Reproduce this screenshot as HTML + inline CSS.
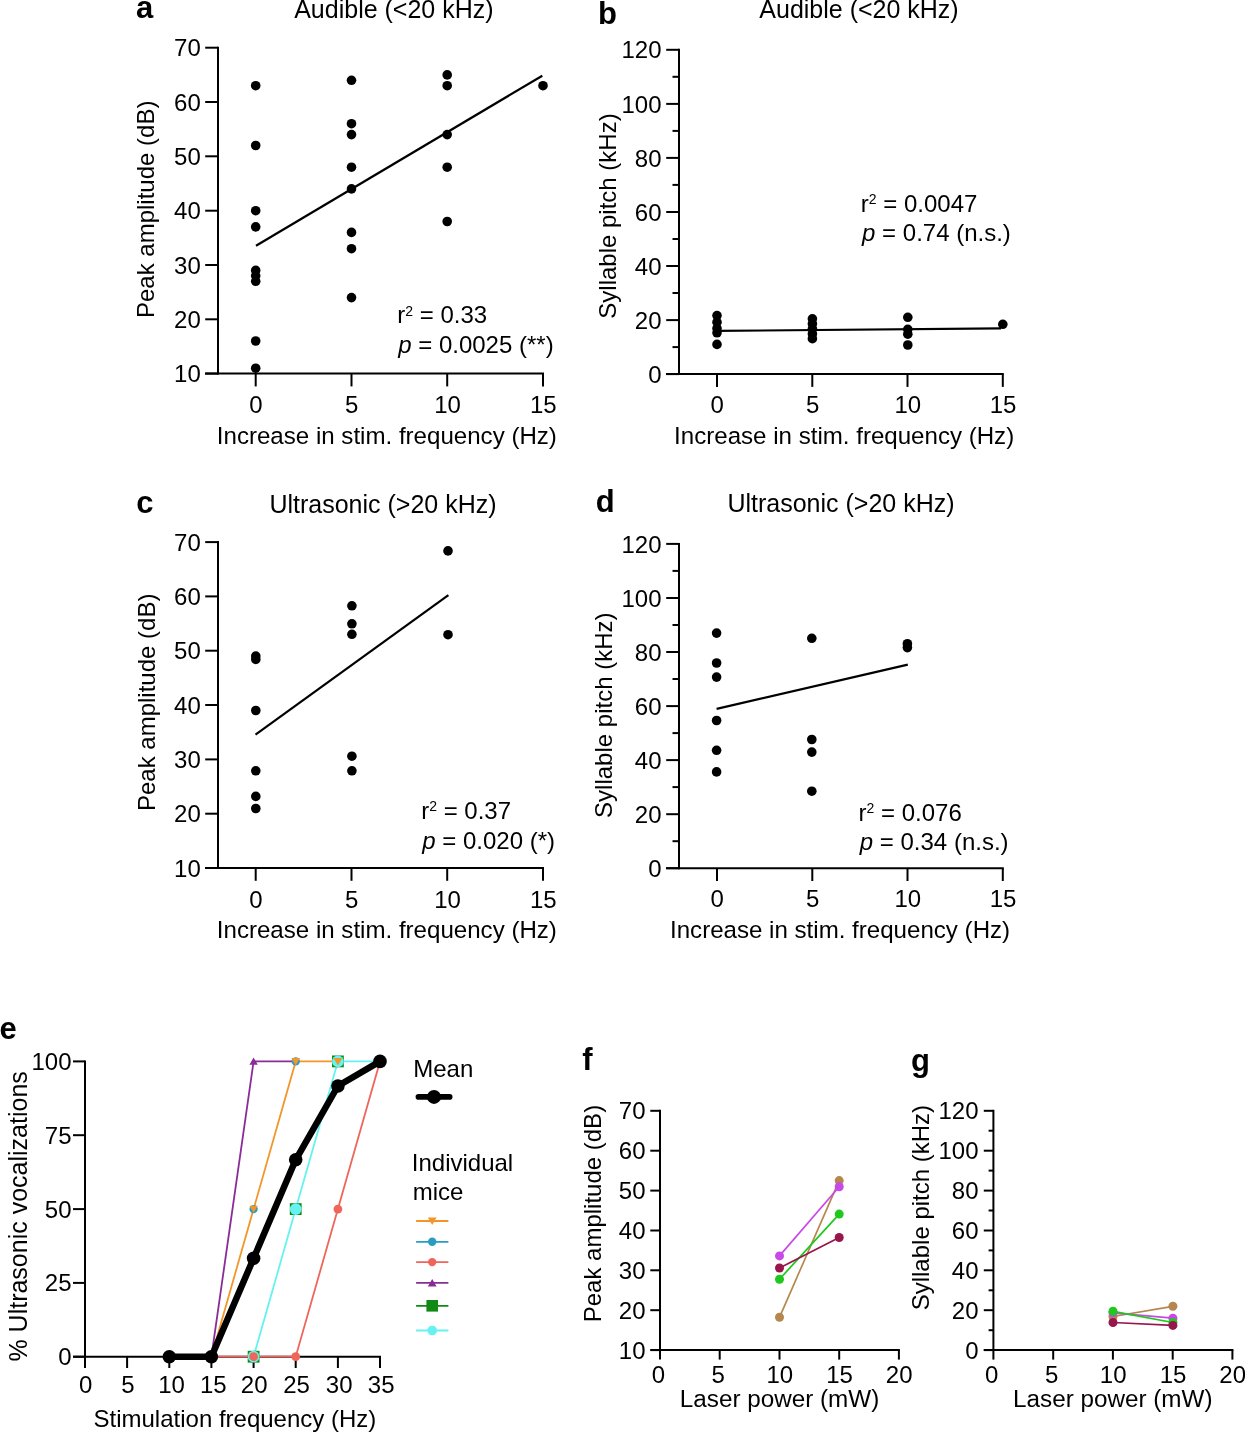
<!DOCTYPE html>
<html><head><meta charset="utf-8"><style>
html,body{margin:0;padding:0;background:#fff;}
svg{display:block;will-change:transform;}
text{font-family:"Liberation Sans",sans-serif;fill:#000;}
</style></head><body>
<svg width="1245" height="1433" viewBox="0 0 1245 1433">
<rect width="1245" height="1433" fill="#fff"/>
<line x1="218.0" y1="46.7" x2="218.0" y2="374.6" stroke="#000" stroke-width="2"/>
<line x1="205.2" y1="373.6" x2="218.0" y2="373.6" stroke="#000" stroke-width="2"/>
<text x="200.8" y="382.2" font-size="24" text-anchor="end">10</text>
<line x1="205.2" y1="319.3" x2="218.0" y2="319.3" stroke="#000" stroke-width="2"/>
<text x="200.8" y="327.9" font-size="24" text-anchor="end">20</text>
<line x1="205.2" y1="265.0" x2="218.0" y2="265.0" stroke="#000" stroke-width="2"/>
<text x="200.8" y="273.6" font-size="24" text-anchor="end">30</text>
<line x1="205.2" y1="210.7" x2="218.0" y2="210.7" stroke="#000" stroke-width="2"/>
<text x="200.8" y="219.2" font-size="24" text-anchor="end">40</text>
<line x1="205.2" y1="156.3" x2="218.0" y2="156.3" stroke="#000" stroke-width="2"/>
<text x="200.8" y="164.9" font-size="24" text-anchor="end">50</text>
<line x1="205.2" y1="102.0" x2="218.0" y2="102.0" stroke="#000" stroke-width="2"/>
<text x="200.8" y="110.6" font-size="24" text-anchor="end">60</text>
<line x1="205.2" y1="47.7" x2="218.0" y2="47.7" stroke="#000" stroke-width="2"/>
<text x="200.8" y="56.3" font-size="24" text-anchor="end">70</text>
<line x1="205.0" y1="373.6" x2="544.0" y2="373.6" stroke="#000" stroke-width="2"/>
<line x1="255.7" y1="373.6" x2="255.7" y2="386.4" stroke="#000" stroke-width="2"/>
<text x="256.0" y="413.2" font-size="24" text-anchor="middle">0</text>
<line x1="351.5" y1="373.6" x2="351.5" y2="386.4" stroke="#000" stroke-width="2"/>
<text x="351.8" y="413.2" font-size="24" text-anchor="middle">5</text>
<line x1="447.2" y1="373.6" x2="447.2" y2="386.4" stroke="#000" stroke-width="2"/>
<text x="447.5" y="413.2" font-size="24" text-anchor="middle">10</text>
<line x1="543.0" y1="373.6" x2="543.0" y2="386.4" stroke="#000" stroke-width="2"/>
<text x="543.3" y="413.2" font-size="24" text-anchor="middle">15</text>
<text x="216.8" y="443.7" font-size="24.1">Increase in stim. frequency (Hz)</text>
<text transform="translate(154.3,209.3) rotate(-90)" font-size="24" text-anchor="middle">Peak amplitude (dB)</text>
<text x="294.2" y="17.8" font-size="25">Audible (&lt;20 kHz)</text>
<text x="136.0" y="18.3" font-size="31" font-weight="bold">a</text>
<circle cx="255.7" cy="85.7" r="4.8" fill="#000"/>
<circle cx="255.7" cy="145.5" r="4.8" fill="#000"/>
<circle cx="255.7" cy="210.7" r="4.8" fill="#000"/>
<circle cx="255.7" cy="226.9" r="4.8" fill="#000"/>
<circle cx="255.7" cy="270.4" r="4.8" fill="#000"/>
<circle cx="255.7" cy="275.8" r="4.8" fill="#000"/>
<circle cx="255.7" cy="281.3" r="4.8" fill="#000"/>
<circle cx="255.7" cy="341.0" r="4.8" fill="#000"/>
<circle cx="255.7" cy="368.2" r="4.8" fill="#000"/>
<circle cx="351.5" cy="80.3" r="4.8" fill="#000"/>
<circle cx="351.5" cy="123.7" r="4.8" fill="#000"/>
<circle cx="351.5" cy="134.6" r="4.8" fill="#000"/>
<circle cx="351.5" cy="167.2" r="4.8" fill="#000"/>
<circle cx="351.5" cy="188.9" r="4.8" fill="#000"/>
<circle cx="351.5" cy="232.4" r="4.8" fill="#000"/>
<circle cx="351.5" cy="248.7" r="4.8" fill="#000"/>
<circle cx="351.5" cy="297.6" r="4.8" fill="#000"/>
<circle cx="447.2" cy="74.9" r="4.8" fill="#000"/>
<circle cx="447.2" cy="85.7" r="4.8" fill="#000"/>
<circle cx="447.2" cy="134.6" r="4.8" fill="#000"/>
<circle cx="447.2" cy="167.2" r="4.8" fill="#000"/>
<circle cx="447.2" cy="221.5" r="4.8" fill="#000"/>
<circle cx="543.0" cy="85.7" r="4.8" fill="#000"/>
<line x1="256.0" y1="245.7" x2="542.3" y2="75.7" stroke="#000" stroke-width="2.2"/>
<text x="397.3" y="323.3" font-size="24">r<tspan font-size="14" dy="-7.5">2</tspan><tspan dy="7.5"> = 0.33</tspan></text>
<text x="398.2" y="352.6" font-size="24"><tspan font-style="italic">p</tspan> = 0.0025 (**)</text>
<line x1="679.0" y1="48.8" x2="679.0" y2="375.1" stroke="#000" stroke-width="2"/>
<line x1="666.2" y1="374.1" x2="679.0" y2="374.1" stroke="#000" stroke-width="2"/>
<text x="661.5" y="382.7" font-size="24" text-anchor="end">0</text>
<line x1="666.2" y1="320.1" x2="679.0" y2="320.1" stroke="#000" stroke-width="2"/>
<text x="661.5" y="328.7" font-size="24" text-anchor="end">20</text>
<line x1="666.2" y1="266.0" x2="679.0" y2="266.0" stroke="#000" stroke-width="2"/>
<text x="661.5" y="274.6" font-size="24" text-anchor="end">40</text>
<line x1="666.2" y1="212.0" x2="679.0" y2="212.0" stroke="#000" stroke-width="2"/>
<text x="661.5" y="220.6" font-size="24" text-anchor="end">60</text>
<line x1="666.2" y1="157.9" x2="679.0" y2="157.9" stroke="#000" stroke-width="2"/>
<text x="661.5" y="166.5" font-size="24" text-anchor="end">80</text>
<line x1="666.2" y1="103.9" x2="679.0" y2="103.9" stroke="#000" stroke-width="2"/>
<text x="661.5" y="112.5" font-size="24" text-anchor="end">100</text>
<line x1="666.2" y1="49.8" x2="679.0" y2="49.8" stroke="#000" stroke-width="2"/>
<text x="661.5" y="58.4" font-size="24" text-anchor="end">120</text>
<line x1="672.5" y1="347.1" x2="679.0" y2="347.1" stroke="#000" stroke-width="2"/>
<line x1="672.5" y1="293.0" x2="679.0" y2="293.0" stroke="#000" stroke-width="2"/>
<line x1="672.5" y1="239.0" x2="679.0" y2="239.0" stroke="#000" stroke-width="2"/>
<line x1="672.5" y1="184.9" x2="679.0" y2="184.9" stroke="#000" stroke-width="2"/>
<line x1="672.5" y1="130.9" x2="679.0" y2="130.9" stroke="#000" stroke-width="2"/>
<line x1="672.5" y1="76.8" x2="679.0" y2="76.8" stroke="#000" stroke-width="2"/>
<line x1="666.0" y1="374.1" x2="1003.8" y2="374.1" stroke="#000" stroke-width="2"/>
<line x1="717.0" y1="374.1" x2="717.0" y2="386.9" stroke="#000" stroke-width="2"/>
<text x="717.3" y="413.3" font-size="24" text-anchor="middle">0</text>
<line x1="812.3" y1="374.1" x2="812.3" y2="386.9" stroke="#000" stroke-width="2"/>
<text x="812.6" y="413.3" font-size="24" text-anchor="middle">5</text>
<line x1="907.5" y1="374.1" x2="907.5" y2="386.9" stroke="#000" stroke-width="2"/>
<text x="907.8" y="413.3" font-size="24" text-anchor="middle">10</text>
<line x1="1002.8" y1="374.1" x2="1002.8" y2="386.9" stroke="#000" stroke-width="2"/>
<text x="1003.1" y="413.3" font-size="24" text-anchor="middle">15</text>
<text x="674.1" y="443.6" font-size="24.1">Increase in stim. frequency (Hz)</text>
<text transform="translate(615.5,216.0) rotate(-90)" font-size="24" text-anchor="middle">Syllable pitch (kHz)</text>
<text x="759.3" y="17.7" font-size="25">Audible (&lt;20 kHz)</text>
<text x="597.9" y="23.6" font-size="31" font-weight="bold">b</text>
<circle cx="717.0" cy="315.6" r="4.8" fill="#000"/>
<circle cx="717.0" cy="322.2" r="4.8" fill="#000"/>
<circle cx="717.0" cy="328.4" r="4.8" fill="#000"/>
<circle cx="717.0" cy="332.8" r="4.8" fill="#000"/>
<circle cx="717.0" cy="344.4" r="4.8" fill="#000"/>
<circle cx="812.4" cy="318.8" r="4.8" fill="#000"/>
<circle cx="812.4" cy="323.8" r="4.8" fill="#000"/>
<circle cx="812.4" cy="328.8" r="4.8" fill="#000"/>
<circle cx="812.4" cy="333.8" r="4.8" fill="#000"/>
<circle cx="812.4" cy="338.7" r="4.8" fill="#000"/>
<circle cx="907.8" cy="317.3" r="4.8" fill="#000"/>
<circle cx="907.8" cy="329.3" r="4.8" fill="#000"/>
<circle cx="907.8" cy="334.2" r="4.8" fill="#000"/>
<circle cx="907.8" cy="345.0" r="4.8" fill="#000"/>
<circle cx="1002.8" cy="324.3" r="4.8" fill="#000"/>
<line x1="717.0" y1="330.9" x2="1001.0" y2="328.4" stroke="#000" stroke-width="2.2"/>
<text x="860.8" y="211.7" font-size="24">r<tspan font-size="14" dy="-7.5">2</tspan><tspan dy="7.5"> = 0.0047</tspan></text>
<text x="862.1" y="241.4" font-size="24"><tspan font-style="italic">p</tspan> = 0.74 (n.s.)</text>
<line x1="218.0" y1="541.1" x2="218.0" y2="869.0" stroke="#000" stroke-width="2"/>
<line x1="205.2" y1="868.0" x2="218.0" y2="868.0" stroke="#000" stroke-width="2"/>
<text x="200.8" y="876.6" font-size="24" text-anchor="end">10</text>
<line x1="205.2" y1="813.7" x2="218.0" y2="813.7" stroke="#000" stroke-width="2"/>
<text x="200.8" y="822.3" font-size="24" text-anchor="end">20</text>
<line x1="205.2" y1="759.4" x2="218.0" y2="759.4" stroke="#000" stroke-width="2"/>
<text x="200.8" y="768.0" font-size="24" text-anchor="end">30</text>
<line x1="205.2" y1="705.0" x2="218.0" y2="705.0" stroke="#000" stroke-width="2"/>
<text x="200.8" y="713.6" font-size="24" text-anchor="end">40</text>
<line x1="205.2" y1="650.7" x2="218.0" y2="650.7" stroke="#000" stroke-width="2"/>
<text x="200.8" y="659.3" font-size="24" text-anchor="end">50</text>
<line x1="205.2" y1="596.4" x2="218.0" y2="596.4" stroke="#000" stroke-width="2"/>
<text x="200.8" y="605.0" font-size="24" text-anchor="end">60</text>
<line x1="205.2" y1="542.1" x2="218.0" y2="542.1" stroke="#000" stroke-width="2"/>
<text x="200.8" y="550.7" font-size="24" text-anchor="end">70</text>
<line x1="205.0" y1="868.0" x2="544.0" y2="868.0" stroke="#000" stroke-width="2"/>
<line x1="255.7" y1="868.0" x2="255.7" y2="880.8" stroke="#000" stroke-width="2"/>
<text x="256.0" y="907.6" font-size="24" text-anchor="middle">0</text>
<line x1="351.5" y1="868.0" x2="351.5" y2="880.8" stroke="#000" stroke-width="2"/>
<text x="351.8" y="907.6" font-size="24" text-anchor="middle">5</text>
<line x1="447.2" y1="868.0" x2="447.2" y2="880.8" stroke="#000" stroke-width="2"/>
<text x="447.5" y="907.6" font-size="24" text-anchor="middle">10</text>
<line x1="543.0" y1="868.0" x2="543.0" y2="880.8" stroke="#000" stroke-width="2"/>
<text x="543.3" y="907.6" font-size="24" text-anchor="middle">15</text>
<text x="216.8" y="938.1" font-size="24.1">Increase in stim. frequency (Hz)</text>
<text transform="translate(154.5,702.3) rotate(-90)" font-size="24" text-anchor="middle">Peak amplitude (dB)</text>
<text x="269.4" y="512.9" font-size="25">Ultrasonic (&gt;20 kHz)</text>
<text x="136.2" y="512.5" font-size="31" font-weight="bold">c</text>
<circle cx="255.8" cy="656.1" r="4.8" fill="#000"/>
<circle cx="255.8" cy="659.4" r="4.8" fill="#000"/>
<circle cx="255.8" cy="710.5" r="4.8" fill="#000"/>
<circle cx="255.8" cy="770.8" r="4.8" fill="#000"/>
<circle cx="255.8" cy="796.4" r="4.8" fill="#000"/>
<circle cx="255.8" cy="808.5" r="4.8" fill="#000"/>
<circle cx="351.9" cy="605.8" r="4.8" fill="#000"/>
<circle cx="351.9" cy="623.8" r="4.8" fill="#000"/>
<circle cx="351.9" cy="634.3" r="4.8" fill="#000"/>
<circle cx="351.9" cy="756.2" r="4.8" fill="#000"/>
<circle cx="351.9" cy="770.8" r="4.8" fill="#000"/>
<circle cx="448.0" cy="550.9" r="4.8" fill="#000"/>
<circle cx="448.0" cy="634.7" r="4.8" fill="#000"/>
<line x1="255.5" y1="734.6" x2="448.4" y2="595.1" stroke="#000" stroke-width="2.2"/>
<text x="421.2" y="818.5" font-size="24">r<tspan font-size="14" dy="-7.5">2</tspan><tspan dy="7.5"> = 0.37</tspan></text>
<text x="422.3" y="848.5" font-size="24"><tspan font-style="italic">p</tspan> = 0.020 (*)</text>
<line x1="679.0" y1="542.9" x2="679.0" y2="869.2" stroke="#000" stroke-width="2"/>
<line x1="666.2" y1="868.2" x2="679.0" y2="868.2" stroke="#000" stroke-width="2"/>
<text x="661.5" y="876.8" font-size="24" text-anchor="end">0</text>
<line x1="666.2" y1="814.2" x2="679.0" y2="814.2" stroke="#000" stroke-width="2"/>
<text x="661.5" y="822.8" font-size="24" text-anchor="end">20</text>
<line x1="666.2" y1="760.1" x2="679.0" y2="760.1" stroke="#000" stroke-width="2"/>
<text x="661.5" y="768.7" font-size="24" text-anchor="end">40</text>
<line x1="666.2" y1="706.1" x2="679.0" y2="706.1" stroke="#000" stroke-width="2"/>
<text x="661.5" y="714.7" font-size="24" text-anchor="end">60</text>
<line x1="666.2" y1="652.0" x2="679.0" y2="652.0" stroke="#000" stroke-width="2"/>
<text x="661.5" y="660.6" font-size="24" text-anchor="end">80</text>
<line x1="666.2" y1="598.0" x2="679.0" y2="598.0" stroke="#000" stroke-width="2"/>
<text x="661.5" y="606.6" font-size="24" text-anchor="end">100</text>
<line x1="666.2" y1="543.9" x2="679.0" y2="543.9" stroke="#000" stroke-width="2"/>
<text x="661.5" y="552.5" font-size="24" text-anchor="end">120</text>
<line x1="672.5" y1="841.2" x2="679.0" y2="841.2" stroke="#000" stroke-width="2"/>
<line x1="672.5" y1="787.1" x2="679.0" y2="787.1" stroke="#000" stroke-width="2"/>
<line x1="672.5" y1="733.1" x2="679.0" y2="733.1" stroke="#000" stroke-width="2"/>
<line x1="672.5" y1="679.0" x2="679.0" y2="679.0" stroke="#000" stroke-width="2"/>
<line x1="672.5" y1="625.0" x2="679.0" y2="625.0" stroke="#000" stroke-width="2"/>
<line x1="672.5" y1="570.9" x2="679.0" y2="570.9" stroke="#000" stroke-width="2"/>
<line x1="666.0" y1="868.2" x2="1003.8" y2="868.2" stroke="#000" stroke-width="2"/>
<line x1="717.0" y1="868.2" x2="717.0" y2="881.0" stroke="#000" stroke-width="2"/>
<text x="717.3" y="907.4" font-size="24" text-anchor="middle">0</text>
<line x1="812.3" y1="868.2" x2="812.3" y2="881.0" stroke="#000" stroke-width="2"/>
<text x="812.6" y="907.4" font-size="24" text-anchor="middle">5</text>
<line x1="907.5" y1="868.2" x2="907.5" y2="881.0" stroke="#000" stroke-width="2"/>
<text x="907.8" y="907.4" font-size="24" text-anchor="middle">10</text>
<line x1="1002.8" y1="868.2" x2="1002.8" y2="881.0" stroke="#000" stroke-width="2"/>
<text x="1003.1" y="907.4" font-size="24" text-anchor="middle">15</text>
<text x="670.0" y="938.3" font-size="24.1">Increase in stim. frequency (Hz)</text>
<text transform="translate(611.8,715.2) rotate(-90)" font-size="24" text-anchor="middle">Syllable pitch (kHz)</text>
<text x="727.4" y="512.1" font-size="25">Ultrasonic (&gt;20 kHz)</text>
<text x="595.7" y="512.0" font-size="31" font-weight="bold">d</text>
<circle cx="716.6" cy="633.1" r="4.8" fill="#000"/>
<circle cx="716.6" cy="663.0" r="4.8" fill="#000"/>
<circle cx="716.6" cy="677.1" r="4.8" fill="#000"/>
<circle cx="716.6" cy="720.5" r="4.8" fill="#000"/>
<circle cx="716.6" cy="750.3" r="4.8" fill="#000"/>
<circle cx="716.6" cy="771.9" r="4.8" fill="#000"/>
<circle cx="811.8" cy="638.3" r="4.8" fill="#000"/>
<circle cx="811.8" cy="739.5" r="4.8" fill="#000"/>
<circle cx="811.8" cy="752.1" r="4.8" fill="#000"/>
<circle cx="811.8" cy="791.2" r="4.8" fill="#000"/>
<circle cx="907.4" cy="643.7" r="4.8" fill="#000"/>
<circle cx="907.4" cy="647.6" r="4.8" fill="#000"/>
<line x1="716.6" y1="708.9" x2="907.8" y2="664.6" stroke="#000" stroke-width="2.2"/>
<text x="858.6" y="820.8" font-size="24">r<tspan font-size="14" dy="-7.5">2</tspan><tspan dy="7.5"> = 0.076</tspan></text>
<text x="859.8" y="850.4" font-size="24"><tspan font-style="italic">p</tspan> = 0.34 (n.s.)</text>
<line x1="85.0" y1="1060.4" x2="85.0" y2="1368.0" stroke="#000" stroke-width="2"/>
<line x1="73.0" y1="1356.7" x2="85.0" y2="1356.7" stroke="#000" stroke-width="2"/>
<text x="71.5" y="1365.1" font-size="24" text-anchor="end">0</text>
<line x1="73.0" y1="1282.9" x2="85.0" y2="1282.9" stroke="#000" stroke-width="2"/>
<text x="71.5" y="1291.3" font-size="24" text-anchor="end">25</text>
<line x1="73.0" y1="1209.1" x2="85.0" y2="1209.1" stroke="#000" stroke-width="2"/>
<text x="71.5" y="1217.5" font-size="24" text-anchor="end">50</text>
<line x1="73.0" y1="1135.2" x2="85.0" y2="1135.2" stroke="#000" stroke-width="2"/>
<text x="71.5" y="1143.6" font-size="24" text-anchor="end">75</text>
<line x1="73.0" y1="1061.4" x2="85.0" y2="1061.4" stroke="#000" stroke-width="2"/>
<text x="71.5" y="1069.8" font-size="24" text-anchor="end">100</text>
<line x1="73.0" y1="1356.7" x2="381.0" y2="1356.7" stroke="#000" stroke-width="2"/>
<line x1="127.1" y1="1356.7" x2="127.1" y2="1368.0" stroke="#000" stroke-width="2"/>
<line x1="169.3" y1="1356.7" x2="169.3" y2="1368.0" stroke="#000" stroke-width="2"/>
<line x1="211.4" y1="1356.7" x2="211.4" y2="1368.0" stroke="#000" stroke-width="2"/>
<line x1="253.6" y1="1356.7" x2="253.6" y2="1368.0" stroke="#000" stroke-width="2"/>
<line x1="295.7" y1="1356.7" x2="295.7" y2="1368.0" stroke="#000" stroke-width="2"/>
<line x1="337.9" y1="1356.7" x2="337.9" y2="1368.0" stroke="#000" stroke-width="2"/>
<line x1="380.0" y1="1356.7" x2="380.0" y2="1368.0" stroke="#000" stroke-width="2"/>
<text x="85.7" y="1392.5" font-size="24" text-anchor="middle">0</text>
<text x="128.0" y="1392.5" font-size="24" text-anchor="middle">5</text>
<text x="171.5" y="1392.5" font-size="24" text-anchor="middle">10</text>
<text x="213.3" y="1392.5" font-size="24" text-anchor="middle">15</text>
<text x="254.2" y="1392.5" font-size="24" text-anchor="middle">20</text>
<text x="296.6" y="1392.5" font-size="24" text-anchor="middle">25</text>
<text x="339.2" y="1392.5" font-size="24" text-anchor="middle">30</text>
<text x="381.2" y="1392.5" font-size="24" text-anchor="middle">35</text>
<text x="93.5" y="1427.2" font-size="24">Stimulation frequency (Hz)</text>
<text transform="translate(27.3,1216.4) rotate(-90)" font-size="25" text-anchor="middle">% Ultrasonic vocalizations</text>
<text x="-0.4" y="1038.5" font-size="31" font-weight="bold">e</text>
<polyline points="211.4,1356.7 295.7,1356.7 337.9,1209.1 380.0,1061.4" fill="none" stroke="#f0655a" stroke-width="1.8" stroke-linejoin="miter" stroke-linecap="butt"/>
<polyline points="253.6,1356.7 295.7,1209.1 337.9,1061.4 380.0,1061.4" fill="none" stroke="#66f2f2" stroke-width="1.8" stroke-linejoin="miter" stroke-linecap="butt"/>
<polyline points="211.4,1356.7 253.6,1209.1 295.7,1061.4 337.9,1061.4" fill="none" stroke="#f3962a" stroke-width="1.8" stroke-linejoin="miter" stroke-linecap="butt"/>
<polyline points="211.4,1356.7 253.6,1061.4 295.7,1061.4" fill="none" stroke="#8a2c98" stroke-width="1.8" stroke-linejoin="miter" stroke-linecap="butt"/>
<rect x="247.7" y="1350.8" width="11.8" height="11.8" fill="#0f8a14"/>
<rect x="289.8" y="1203.2" width="11.8" height="11.8" fill="#0f8a14"/>
<rect x="332.0" y="1055.5" width="11.8" height="11.8" fill="#0f8a14"/>
<circle cx="253.6" cy="1356.7" r="5.9" fill="#66f2f2"/>
<circle cx="295.7" cy="1209.1" r="5.9" fill="#66f2f2"/>
<circle cx="337.9" cy="1061.4" r="5.9" fill="#66f2f2"/>
<circle cx="253.6" cy="1356.7" r="4.4" fill="#f0655a"/>
<circle cx="295.7" cy="1356.7" r="4.4" fill="#f0655a"/>
<circle cx="337.9" cy="1209.1" r="4.4" fill="#f0655a"/>
<circle cx="253.6" cy="1209.1" r="4.2" fill="#2a9cc0"/>
<circle cx="295.7" cy="1061.4" r="4.2" fill="#2a9cc0"/>
<path d="M249.4,1205.7 L257.8,1205.7 L253.6,1212.8 Z" fill="#f3962a"/>
<path d="M291.3,1057.9 L300.1,1057.9 L295.7,1065.4 Z" fill="#f3962a"/>
<path d="M333.5,1057.9 L342.3,1057.9 L337.9,1065.4 Z" fill="#f3962a"/>
<path d="M249.4,1064.8 L257.8,1064.8 L253.6,1057.6 Z" fill="#8a2c98"/>
<polyline points="169.3,1356.7 211.4,1356.7 253.6,1258.3 295.7,1159.8 337.9,1086.0 380.0,1061.4" fill="none" stroke="#000" stroke-width="6.5" stroke-linejoin="round" stroke-linecap="round"/>
<circle cx="169.3" cy="1356.7" r="6.8" fill="#000"/>
<circle cx="211.4" cy="1356.7" r="6.8" fill="#000"/>
<circle cx="253.6" cy="1258.3" r="6.8" fill="#000"/>
<circle cx="295.7" cy="1159.8" r="6.8" fill="#000"/>
<circle cx="337.9" cy="1086.0" r="6.8" fill="#000"/>
<circle cx="380.0" cy="1061.4" r="6.8" fill="#000"/>
<text x="413.2" y="1076.8" font-size="24">Mean</text>
<line x1="418.4" y1="1096.9" x2="449.7" y2="1096.9" stroke="#000" stroke-width="5.6" stroke-linecap="round"/>
<circle cx="434.0" cy="1096.9" r="7" fill="#000"/>
<text x="411.8" y="1170.6" font-size="24">Individual</text>
<text x="412.8" y="1200.2" font-size="24">mice</text>
<line x1="416.1" y1="1221.0" x2="448.4" y2="1221.0" stroke="#f3962a" stroke-width="1.8"/>
<path d="M427.8,1217.5 L436.6,1217.5 L432.2,1225.0 Z" fill="#f3962a"/>
<line x1="416.1" y1="1241.8" x2="448.4" y2="1241.8" stroke="#2a9cc0" stroke-width="1.8"/>
<circle cx="432.2" cy="1241.8" r="4.2" fill="#2a9cc0"/>
<line x1="416.1" y1="1262.1" x2="448.4" y2="1262.1" stroke="#f0655a" stroke-width="1.8"/>
<circle cx="432.2" cy="1262.1" r="4.2" fill="#f0655a"/>
<line x1="416.1" y1="1282.9" x2="448.4" y2="1282.9" stroke="#8a2c98" stroke-width="1.8"/>
<path d="M427.8,1286.4 L436.6,1286.4 L432.2,1278.9 Z" fill="#8a2c98"/>
<line x1="416.1" y1="1305.8" x2="448.4" y2="1305.8" stroke="#0f8a14" stroke-width="1.8"/>
<rect x="426.4" y="1300.0" width="11.6" height="11.6" fill="#0f8a14"/>
<line x1="416.1" y1="1330.5" x2="448.4" y2="1330.5" stroke="#66f2f2" stroke-width="1.8"/>
<circle cx="432.2" cy="1330.5" r="4.8" fill="#66f2f2"/>
<line x1="660.0" y1="1109.8" x2="660.0" y2="1359.6" stroke="#000" stroke-width="2"/>
<line x1="650.3" y1="1350.1" x2="660.0" y2="1350.1" stroke="#000" stroke-width="2"/>
<text x="645.5" y="1358.5" font-size="24" text-anchor="end">10</text>
<line x1="650.3" y1="1310.2" x2="660.0" y2="1310.2" stroke="#000" stroke-width="2"/>
<text x="645.5" y="1318.6" font-size="24" text-anchor="end">20</text>
<line x1="650.3" y1="1270.3" x2="660.0" y2="1270.3" stroke="#000" stroke-width="2"/>
<text x="645.5" y="1278.7" font-size="24" text-anchor="end">30</text>
<line x1="650.3" y1="1230.5" x2="660.0" y2="1230.5" stroke="#000" stroke-width="2"/>
<text x="645.5" y="1238.9" font-size="24" text-anchor="end">40</text>
<line x1="650.3" y1="1190.6" x2="660.0" y2="1190.6" stroke="#000" stroke-width="2"/>
<text x="645.5" y="1199.0" font-size="24" text-anchor="end">50</text>
<line x1="650.3" y1="1150.7" x2="660.0" y2="1150.7" stroke="#000" stroke-width="2"/>
<text x="645.5" y="1159.1" font-size="24" text-anchor="end">60</text>
<line x1="650.3" y1="1110.8" x2="660.0" y2="1110.8" stroke="#000" stroke-width="2"/>
<text x="645.5" y="1119.2" font-size="24" text-anchor="end">70</text>
<line x1="650.5" y1="1350.1" x2="899.9" y2="1350.1" stroke="#000" stroke-width="2"/>
<line x1="719.7" y1="1350.1" x2="719.7" y2="1359.6" stroke="#000" stroke-width="2"/>
<line x1="779.5" y1="1350.1" x2="779.5" y2="1359.6" stroke="#000" stroke-width="2"/>
<line x1="839.2" y1="1350.1" x2="839.2" y2="1359.6" stroke="#000" stroke-width="2"/>
<line x1="898.9" y1="1350.1" x2="898.9" y2="1359.6" stroke="#000" stroke-width="2"/>
<text x="658.4" y="1382.7" font-size="24" text-anchor="middle">0</text>
<text x="718.1" y="1382.7" font-size="24" text-anchor="middle">5</text>
<text x="779.8" y="1382.7" font-size="24" text-anchor="middle">10</text>
<text x="839.5" y="1382.7" font-size="24" text-anchor="middle">15</text>
<text x="899.2" y="1382.7" font-size="24" text-anchor="middle">20</text>
<text x="679.8" y="1407.1" font-size="24.25">Laser power (mW)</text>
<text transform="translate(600.6,1213.6) rotate(-90)" font-size="24" text-anchor="middle">Peak amplitude (dB)</text>
<text x="582.3" y="1070.0" font-size="31" font-weight="bold">f</text>
<line x1="779.5" y1="1317.3" x2="839.2" y2="1180.6" stroke="#b5874f" stroke-width="1.7"/>
<circle cx="779.5" cy="1317.3" r="4.5" fill="#b5874f"/>
<circle cx="839.2" cy="1180.6" r="4.5" fill="#b5874f"/>
<line x1="779.5" y1="1279.2" x2="839.2" y2="1214.1" stroke="#1ec81e" stroke-width="1.7"/>
<circle cx="779.5" cy="1279.2" r="4.5" fill="#1ec81e"/>
<circle cx="839.2" cy="1214.1" r="4.5" fill="#1ec81e"/>
<line x1="779.5" y1="1268.0" x2="839.2" y2="1237.5" stroke="#97164b" stroke-width="1.7"/>
<circle cx="779.5" cy="1268.0" r="4.5" fill="#97164b"/>
<circle cx="839.2" cy="1237.5" r="4.5" fill="#97164b"/>
<line x1="779.5" y1="1255.9" x2="839.2" y2="1186.7" stroke="#c848e8" stroke-width="1.7"/>
<circle cx="779.5" cy="1255.9" r="4.5" fill="#c848e8"/>
<circle cx="839.2" cy="1186.7" r="4.5" fill="#c848e8"/>
<line x1="993.4" y1="1109.8" x2="993.4" y2="1359.6" stroke="#000" stroke-width="2"/>
<line x1="983.8" y1="1350.1" x2="993.4" y2="1350.1" stroke="#000" stroke-width="2"/>
<text x="978.5" y="1358.5" font-size="24" text-anchor="end">0</text>
<line x1="983.8" y1="1310.2" x2="993.4" y2="1310.2" stroke="#000" stroke-width="2"/>
<text x="978.5" y="1318.6" font-size="24" text-anchor="end">20</text>
<line x1="983.8" y1="1270.3" x2="993.4" y2="1270.3" stroke="#000" stroke-width="2"/>
<text x="978.5" y="1278.7" font-size="24" text-anchor="end">40</text>
<line x1="983.8" y1="1230.5" x2="993.4" y2="1230.5" stroke="#000" stroke-width="2"/>
<text x="978.5" y="1238.9" font-size="24" text-anchor="end">60</text>
<line x1="983.8" y1="1190.6" x2="993.4" y2="1190.6" stroke="#000" stroke-width="2"/>
<text x="978.5" y="1199.0" font-size="24" text-anchor="end">80</text>
<line x1="983.8" y1="1150.7" x2="993.4" y2="1150.7" stroke="#000" stroke-width="2"/>
<text x="978.5" y="1159.1" font-size="24" text-anchor="end">100</text>
<line x1="983.8" y1="1110.8" x2="993.4" y2="1110.8" stroke="#000" stroke-width="2"/>
<text x="978.5" y="1119.2" font-size="24" text-anchor="end">120</text>
<line x1="988.6" y1="1330.2" x2="993.4" y2="1330.2" stroke="#000" stroke-width="2"/>
<line x1="988.6" y1="1290.3" x2="993.4" y2="1290.3" stroke="#000" stroke-width="2"/>
<line x1="988.6" y1="1250.4" x2="993.4" y2="1250.4" stroke="#000" stroke-width="2"/>
<line x1="988.6" y1="1210.5" x2="993.4" y2="1210.5" stroke="#000" stroke-width="2"/>
<line x1="988.6" y1="1170.6" x2="993.4" y2="1170.6" stroke="#000" stroke-width="2"/>
<line x1="988.6" y1="1130.7" x2="993.4" y2="1130.7" stroke="#000" stroke-width="2"/>
<line x1="983.8" y1="1350.1" x2="1233.4" y2="1350.1" stroke="#000" stroke-width="2"/>
<line x1="1053.2" y1="1350.1" x2="1053.2" y2="1359.6" stroke="#000" stroke-width="2"/>
<line x1="1112.9" y1="1350.1" x2="1112.9" y2="1359.6" stroke="#000" stroke-width="2"/>
<line x1="1172.7" y1="1350.1" x2="1172.7" y2="1359.6" stroke="#000" stroke-width="2"/>
<line x1="1232.4" y1="1350.1" x2="1232.4" y2="1359.6" stroke="#000" stroke-width="2"/>
<text x="991.8" y="1382.7" font-size="24" text-anchor="middle">0</text>
<text x="1051.6" y="1382.7" font-size="24" text-anchor="middle">5</text>
<text x="1113.2" y="1382.7" font-size="24" text-anchor="middle">10</text>
<text x="1173.0" y="1382.7" font-size="24" text-anchor="middle">15</text>
<text x="1232.7" y="1382.7" font-size="24" text-anchor="middle">20</text>
<text x="1013.1" y="1407.1" font-size="24.25">Laser power (mW)</text>
<text transform="translate(929.3,1207.6) rotate(-90)" font-size="24" text-anchor="middle">Syllable pitch (kHz)</text>
<text x="911.1" y="1070.5" font-size="31" font-weight="bold">g</text>
<line x1="1113.0" y1="1316.5" x2="1172.9" y2="1306.3" stroke="#b5874f" stroke-width="1.7"/>
<circle cx="1113.0" cy="1316.5" r="4.5" fill="#b5874f"/>
<circle cx="1172.9" cy="1306.3" r="4.5" fill="#b5874f"/>
<line x1="1113.0" y1="1312.8" x2="1172.9" y2="1318.2" stroke="#c848e8" stroke-width="1.7"/>
<circle cx="1113.0" cy="1312.8" r="4.5" fill="#c848e8"/>
<circle cx="1172.9" cy="1318.2" r="4.5" fill="#c848e8"/>
<line x1="1113.0" y1="1311.3" x2="1172.9" y2="1322.5" stroke="#1ec81e" stroke-width="1.7"/>
<circle cx="1113.0" cy="1311.3" r="4.5" fill="#1ec81e"/>
<circle cx="1172.9" cy="1322.5" r="4.5" fill="#1ec81e"/>
<line x1="1113.0" y1="1322.5" x2="1172.9" y2="1325.4" stroke="#97164b" stroke-width="1.7"/>
<circle cx="1113.0" cy="1322.5" r="4.5" fill="#97164b"/>
<circle cx="1172.9" cy="1325.4" r="4.5" fill="#97164b"/>
</svg>
</body></html>
